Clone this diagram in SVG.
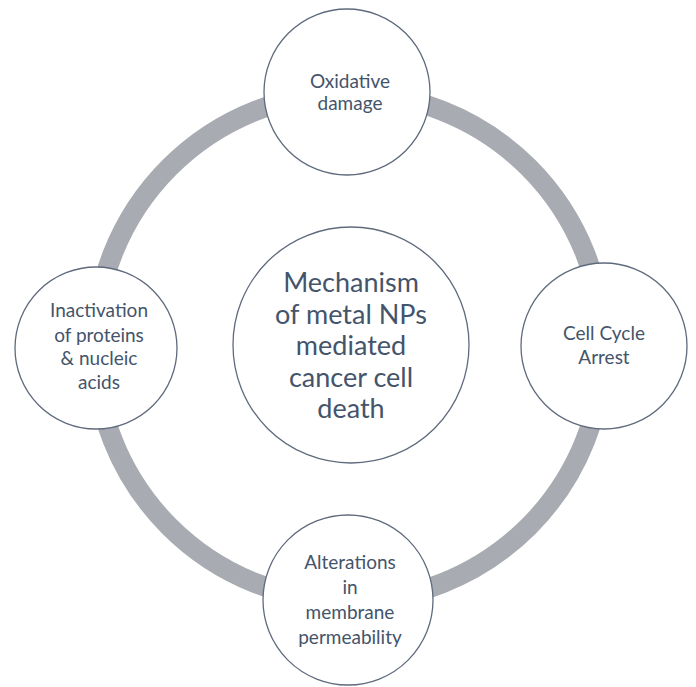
<svg xmlns="http://www.w3.org/2000/svg" width="696" height="687" viewBox="0 0 696 687">
<style>
.node{fill:#ffffff;stroke:#5f6a7d;stroke-width:1.3}
.lbl{font-family:Lato,"Liberation Sans",sans-serif;fill:#44546a;text-anchor:middle;font-size:19px}
.big{font-size:27px}
.ring{fill:none;stroke:#a8abb1;stroke-width:20}
</style>
<rect width="696" height="687" fill="#ffffff"/>
<g id="connectors">
<circle class="ring" cx="349" cy="347" r="254"/>
</g>
<g id="center">
<circle class="node" cx="351" cy="345" r="118"/>
<text class="lbl big"><tspan x="351" y="292">Mechanism</tspan><tspan x="351" y="324">of metal NPs</tspan><tspan x="351" y="355">mediated</tspan><tspan x="351" y="387">cancer cell</tspan><tspan x="351" y="418">death</tspan></text>
</g>
<g id="top">
<circle class="node" cx="347" cy="92" r="83"/>
<text class="lbl"><tspan x="350" y="88">Oxidative</tspan><tspan x="350" y="110">damage</tspan></text>
</g>
<g id="right">
<circle class="node" cx="604" cy="346" r="83"/>
<text class="lbl"><tspan x="604" y="340">Cell Cycle</tspan><tspan x="604" y="364">Arrest</tspan></text>
</g>
<g id="bottom">
<circle class="node" cx="348" cy="600" r="85"/>
<text class="lbl"><tspan x="350" y="569">Alterations</tspan><tspan x="350" y="594">in</tspan><tspan x="350" y="619">membrane</tspan><tspan x="350" y="644">permeability</tspan></text>
</g>
<g id="left">
<circle class="node" cx="96" cy="348" r="81"/>
<text class="lbl"><tspan x="99" y="317">Inactivation</tspan><tspan x="99" y="342">of proteins</tspan><tspan x="99" y="365">&amp; nucleic</tspan><tspan x="99" y="389">acids</tspan></text>
</g>
</svg>
